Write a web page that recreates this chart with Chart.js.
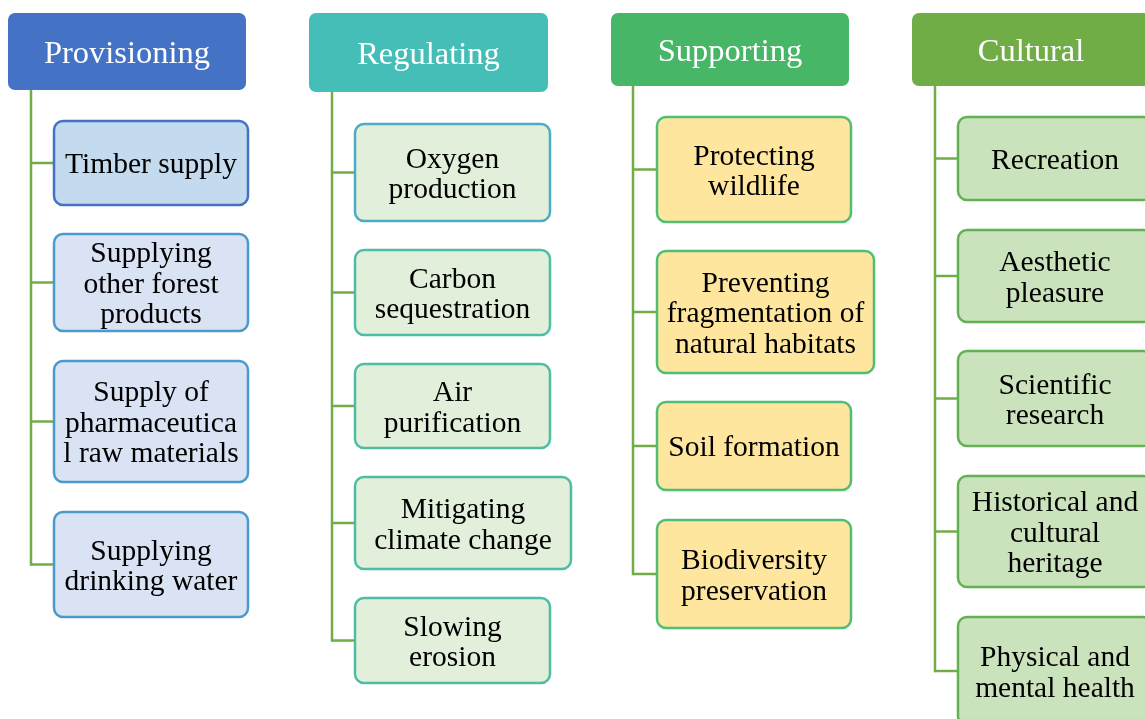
<!DOCTYPE html>
<html>
<head>
<meta charset="utf-8">
<title>Ecosystem services</title>
<script src="https://cdn.jsdelivr.net/npm/chart.js@4.4.1/dist/chart.umd.min.js"></script>
<style>
  html, body { margin: 0; padding: 0; background: #ffffff; }
  #wrap { width: 1145px; height: 719px; position: relative; }
</style>
</head>
<body>
<div id="wrap"><canvas id="serviceChart"></canvas></div>
<script>
// ---------- data ----------

const categories = ['Provisioning', 'Regulating', 'Supporting', 'Cultural'];

const provisioningItems = [
  'Timber supply',
  'Supplying\nother forest\nproducts',
  'Supply of\npharmaceutica\nl raw materials',
  'Supplying\ndrinking water'
];
const regulatingItems = [
  'Oxygen\nproduction',
  'Carbon\nsequestration',
  'Air\npurification',
  'Mitigating\nclimate change',
  'Slowing\nerosion'
];
const supportingItems = [
  'Protecting\nwildlife',
  'Preventing\nfragmentation of\nnatural habitats',
  'Soil formation',
  'Biodiversity\npreservation'
];
const culturalItems = [
  'Recreation',
  'Aesthetic\npleasure',
  'Scientific\nresearch',
  'Historical and\ncultural\nheritage',
  'Physical and\nmental health'
];
const itemsByCategory = [provisioningItems, regulatingItems, supportingItems, culturalItems];

// ---------- layout (units = page px, left/top/right/bottom) ----------

const headerRects = [
  [8, 13, 246, 90],
  [309, 13, 548, 92],
  [611, 13, 849, 86],
  [912, 13, 1150, 86]
];
const trunkX = [31, 332, 633, 935];
const itemRects = [
  [[54, 121, 248, 205], [54, 234, 248, 331], [54, 361, 248, 482], [54, 512, 248, 617]],
  [[355, 124, 550, 221], [355, 250, 550, 335], [355, 364, 550, 448], [355, 477, 571, 569], [355, 598, 550, 683]],
  [[657, 117, 851, 222], [657, 251, 874, 373], [657, 402, 851, 490], [657, 520, 851, 628]],
  [[958, 117, 1152, 200], [958, 230, 1152, 322], [958, 351, 1152, 446], [958, 476, 1152, 587], [958, 617, 1152, 725]]
];

// ---------- styles ----------

const headerColors = ['#4472C4', '#45BEB8', '#47B667', '#70AD47'];
const itemFills = [
  ['#C4DAEE', '#DAE3F3', '#DAE3F3', '#DAE3F3'],
  ['#E2EFDA', '#E2EFDA', '#E2EFDA', '#E2EFDA', '#E2EFDA'],
  ['#FFE69E', '#FFE69E', '#FFE69E', '#FFE69E'],
  ['#CBE3BC', '#CBE3BC', '#CBE3BC', '#CBE3BC', '#CBE3BC']
];
const itemBorders = [
  ['#4472C4', '#4A9ACB', '#4A9ACB', '#4A9ACB'],
  ['#4BACC6', '#4DBDA4', '#4DBDA4', '#4DBDA4', '#4DBDA4'],
  ['#52BD76', '#52BD76', '#52BD76', '#52BD76'],
  ['#62B152', '#62B152', '#62B152', '#62B152', '#62B152']
];
const connectorColor = '#70AD47';
const fontFamily = '"Liberation Serif", "Times New Roman", serif';

// ---------- connector datasets ----------

function buildConnectorDatasets() {
  const datasets = [];
  categories.forEach((cat, c) => {
    const rects = itemRects[c];
    const centers = rects.map((r) => (r[1] + r[3]) / 2);
    const x = trunkX[c];
    // trunk
    datasets.push({
      label: cat,
      data: [{ x: x, y: headerRects[c][3] }, { x: x, y: centers[centers.length - 1] }],
      borderCapStyle: 'square'
    });
    // branches
    rects.forEach((r, i) => {
      datasets.push({
        label: cat + ' ' + i,
        data: [{ x: x, y: centers[i] }, { x: r[0], y: centers[i] }]
      });
    });
  });
  return datasets.map((ds) => Object.assign({
    showLine: true,
    borderColor: connectorColor,
    borderWidth: 2.5,
    pointRadius: 0,
    fill: false
  }, ds));
}

// ---------- boxes plugin ----------

function drawBox(chart, rect, fill, stroke, radius, text, color, fontSize, lineH) {
  const ctx = chart.ctx;
  const xs = chart.scales.x;
  const ys = chart.scales.y;
  const x0 = xs.getPixelForValue(rect[0]);
  const x1 = xs.getPixelForValue(rect[2]);
  const y0 = ys.getPixelForValue(rect[1]);
  const y1 = ys.getPixelForValue(rect[3]);

  ctx.save();
  ctx.beginPath();
  ctx.roundRect(x0, y0, x1 - x0, y1 - y0, radius);
  ctx.fillStyle = fill;
  ctx.fill();
  if (stroke) {
    ctx.lineWidth = 2.5;
    ctx.strokeStyle = stroke;
    ctx.stroke();
  }

  const lines = text.split('\n');
  const cx = (x0 + x1) / 2;
  const cy = (y0 + y1) / 2;
  ctx.fillStyle = color;
  ctx.font = fontSize + 'px ' + fontFamily;
  ctx.textAlign = 'center';
  ctx.textBaseline = 'middle';
  lines.forEach((line, i) => {
    const dy = (i - (lines.length - 1) / 2) * lineH;
    ctx.fillText(line, cx, cy + dy + 2.5);
  });
  ctx.restore();
}

const boxesPlugin = {
  id: 'serviceBoxes',
  afterDatasetsDraw(chart) {
    categories.forEach((cat, c) => {
      drawBox(chart, headerRects[c], headerColors[c], null, 7, cat, '#FFFFFF', 32.5, 32);
      itemsByCategory[c].forEach((label, i) => {
        drawBox(chart, itemRects[c][i], itemFills[c][i], itemBorders[c][i], 9, label, '#000000', 29.5, 30.5);
      });
    });
  }
};

// ---------- init ----------

function initChart() {
  const canvas = document.getElementById('serviceChart');
  new Chart(canvas, {
    type: 'scatter',
    data: { datasets: buildConnectorDatasets() },
    options: {
      responsive: true,
      maintainAspectRatio: false,
      animation: false,
      events: [],
      layout: { padding: 0 },
      scales: {
        x: { type: 'linear', min: 0, max: 1145, display: false },
        y: { type: 'linear', min: 0, max: 719, reverse: true, display: false }
      },
      plugins: {
        legend: { display: false },
        tooltip: { enabled: false }
      }
    },
    plugins: [boxesPlugin]
  });
}

document.addEventListener('DOMContentLoaded', initChart);
</script>
</body>
</html>
